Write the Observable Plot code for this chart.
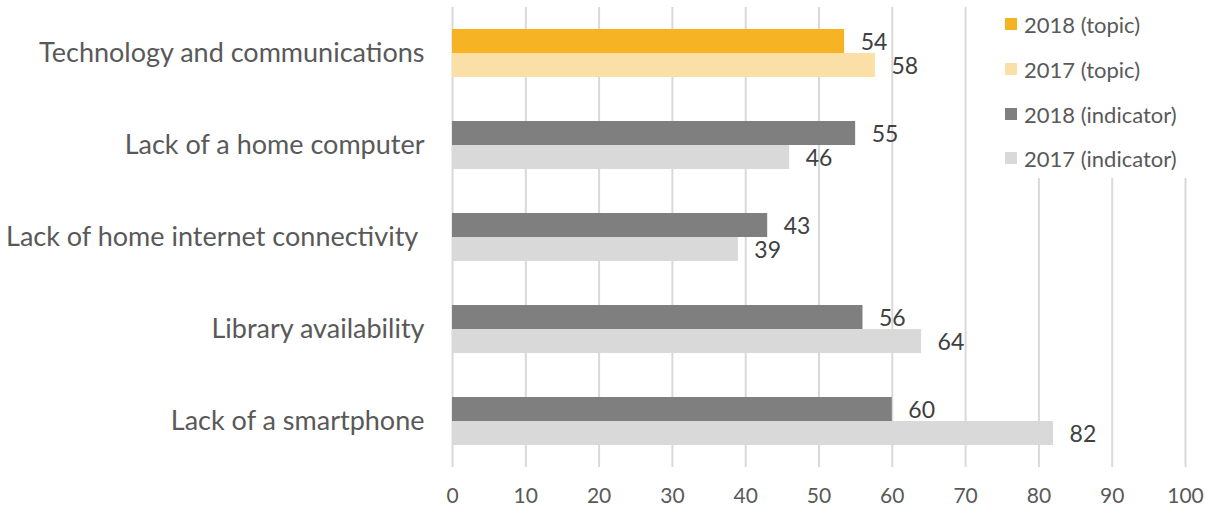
<!DOCTYPE html>
<html>
<head>
<meta charset="utf-8">
<script src="https://cdn.jsdelivr.net/npm/d3@7"></script>
<script src="https://cdn.jsdelivr.net/npm/@observablehq/plot@0.6"></script>
<style>
  html, body { margin: 0; padding: 0; background: white; }
  #wrap { position: relative; width: 1205px; height: 512px; }
  #legend { position: absolute; left: 975px; top: 0; width: 230px; height: 178px; background: white; font-family: Lato, sans-serif; font-size: 22px; color: #595959; }
  .item { position: absolute; left: 30px; display: flex; align-items: center; height: 24px; }
  .sw { width: 12px; height: 12px; margin-right: 7px; }
</style>
</head>
<body>
<div id="wrap"><div id="legend"></div></div>
<script>
const categories = [
  "Technology and communications",
  "Lack of a home computer",
  "Lack of home internet connectivity\u00a0",
  "Library availability",
  "Lack of a smartphone"
];
const kinds = ["topic", "indicator", "indicator", "indicator", "indicator"];
const years = ["2018", "2017"];
const values2018 = [53.5, 55, 43, 56, 60];
const values2017 = [57.7, 46, 39, 64, 82];
const seriesLabels = ["2018 (topic)", "2017 (topic)", "2018 (indicator)", "2017 (indicator)"];
const xTicks = [0, 10, 20, 30, 40, 50, 60, 70, 80, 90, 100];

const rows = [];
categories.forEach((c, i) => {
  rows.push({category: c, year: "2018", value: values2018[i], series: `2018 (${kinds[i]})`});
  rows.push({category: c, year: "2017", value: values2017[i], series: `2017 (${kinds[i]})`});
});

const chart = Plot.plot({
  width: 1205,
  height: 512,
  marginTop: 6,
  marginBottom: 45,
  marginLeft: 452,
  marginRight: 20,
  style: {fontFamily: "Lato, sans-serif", fontSize: "20px", color: "#595959", background: "white"},
  x: {domain: [0, 100]},
  y: {domain: years, paddingInner: 0, paddingOuter: 0.88, axis: null},
  fy: {domain: categories, padding: 0},
  color: {domain: seriesLabels, range: ["#f6b324", "#fae0a6", "#7f7f7f", "#d9d9d9"]},
  marks: [
    Plot.gridX(xTicks, {stroke: "#d9d9d9", strokeOpacity: 1, strokeWidth: 2}),
    Plot.axisX({ticks: xTicks, tickSize: 0, tickPadding: 21, label: null, fontSize: 21}),
    Plot.axisFy({anchor: "left", tickSize: 0, tickPadding: 28, label: null, fontSize: 27}),
    Plot.barX(rows, {x: "value", y: "year", fy: "category", fill: "series"}),
    Plot.text(rows, {x: "value", y: "year", fy: "category", text: d => String(Math.round(d.value)), dx: 16, dy: 1, textAnchor: "start", fill: "#404040", fontSize: 23})
  ]
});
document.getElementById("wrap").prepend(chart);

const color = chart.scale("color");
const legend = document.getElementById("legend");
const rowTops = [12, 57, 102, 146];
seriesLabels.forEach((s, i) => {
  const item = document.createElement("div");
  item.className = "item";
  item.style.top = rowTops[i] + "px";
  const sw = document.createElement("div");
  sw.className = "sw";
  sw.style.background = color.apply(s);
  const t = document.createElement("span");
  t.textContent = s;
  item.append(sw, t);
  legend.append(item);
});
</script>
</body>
</html>
